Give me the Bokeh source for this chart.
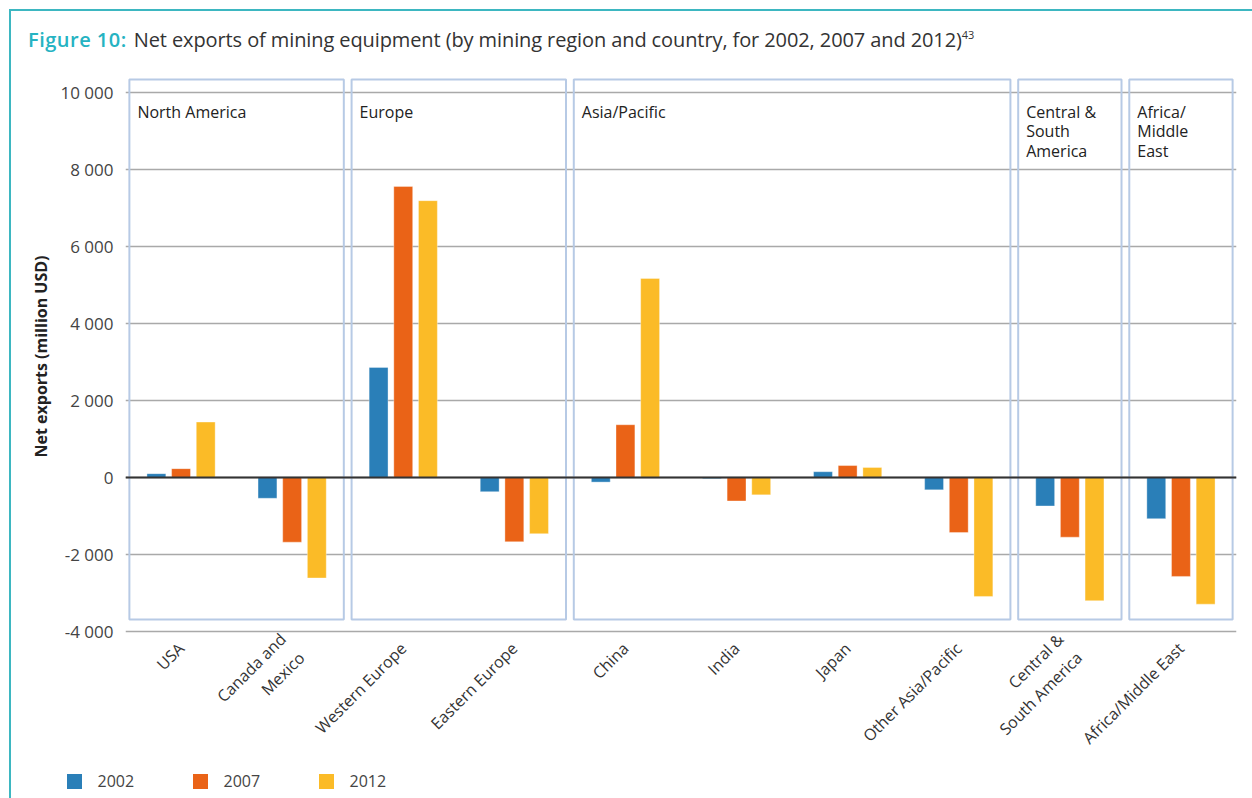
from math import pi
from bokeh.plotting import figure
from bokeh.layouts import column
from bokeh.models import (Range1d, FixedTicker, Div, Span, ColumnDataSource)
from bokeh.core.properties import value
from bokeh.embed import file_html
from bokeh.resources import INLINE

# ---------------- data ----------------
countries = ["USA", "Canada and\nMexico", "Western Europe", "Eastern Europe",
             "China", "India", "Japan", "Other Asia/Pacific",
             "Central &\nSouth America", "Africa/Middle East"]
years = ["2002", "2007", "2012"]
v2002 = [100, -540, 2860, -370, -120, -30, 150, -320, -740, -1070]
v2007 = [230, -1680, 7560, -1670, 1370, -610, 310, -1430, -1550, -2570]
v2012 = [1440, -2610, 7190, -1460, 5170, -450, 260, -3090, -3200, -3290]
regions = ["North America", "Europe", "Asia/Pacific",
           "Central &\nSouth\nAmerica", "Africa/\nMiddle\nEast"]
region_sizes = [2, 2, 4, 1, 1]
y_ticks = [-4000, -2000, 0, 2000, 4000, 6000, 8000, 10000]
y_tick_labels = ["-4 000", "-2 000", "0", "2 000", "4 000", "6 000", "8 000", "10 000"]
title_lead = "Figure 10:"
title_text = "Net exports of mining equipment (by mining region and country, for 2002, 2007 and 2012)"
title_note = "43"

colors = ["#2a7fb8", "#ea6317", "#fbbb27"]
TEAL = "#3db7c1"
FONT = "Open Sans"

p = figure(frame_width=1111, frame_height=570, x_range=Range1d(0, 10),
           y_range=Range1d(-4260, 10545), output_backend="svg",
           toolbar_location=None, min_border_left=114, min_border_right=16,
           min_border_top=0, min_border_bottom=127, margin=0)
p.outline_line_color = None

# grid
p.xgrid.grid_line_color = None
p.ygrid.grid_line_color = "#a9a9a9"
p.ygrid.grid_line_width = 1.5

# y axis
p.yaxis.ticker = FixedTicker(ticks=y_ticks)
p.yaxis.major_label_overrides = dict(zip(y_ticks, y_tick_labels))
p.yaxis.axis_line_color = None
p.yaxis.major_tick_line_color = None
p.yaxis.minor_tick_line_color = None
p.yaxis.major_tick_out = 0
p.yaxis.major_tick_in = 0
p.yaxis.major_label_standoff = 12
p.yaxis.major_label_text_font = FONT
p.yaxis.major_label_text_font_size = "17px"
p.yaxis.major_label_text_color = "#444444"
p.yaxis.axis_label = "Net exports (million USD)"
p.yaxis.axis_label_text_font = FONT
p.yaxis.axis_label_text_font_style = "bold"
p.yaxis.axis_label_text_font_size = "16px"
p.yaxis.axis_label_text_color = "#222222"
p.yaxis.axis_label_standoff = 5

# x axis
x_centers = [i + 0.5 for i in range(len(countries))]
p.xaxis.ticker = FixedTicker(ticks=x_centers)
p.xaxis.major_label_overrides = {c: n for c, n in zip(x_centers, countries)}
p.xaxis.major_label_orientation = pi / 4
p.xaxis.axis_line_color = None
p.xaxis.major_tick_line_color = None
p.xaxis.minor_tick_line_color = None
p.xaxis.major_tick_out = 0
p.xaxis.major_tick_in = 0
p.xaxis.major_label_standoff = 4
p.xaxis.major_label_text_font = FONT
p.xaxis.major_label_text_font_size = "16px"
p.xaxis.major_label_text_color = "#333333"

# region panels
box_top, box_bottom = 10338, -3688
lefts, rights, start = [], [], 0
for n in region_sizes:
    lefts.append(start + 0.035)
    rights.append(start + n - 0.035)
    start += n
p.quad(left=lefts, right=rights, top=box_top, bottom=box_bottom,
       fill_alpha=0, line_color="#b7cae5", line_width=2)
p.text(x=lefts, y=9780, text=regions, x_offset=8,
       text_font=value(FONT), text_font_size="16px", text_color="#222222",
       text_baseline="top", text_align="left", text_line_height=0.88)

# zero line
p.add_layout(Span(location=0, dimension="width", line_color="#333333", line_width=2))

# bars
offsets = [-0.222, 0.0, 0.222]
for vals, off, col in zip([v2002, v2007, v2012], offsets, colors):
    src = ColumnDataSource(dict(x=[c + off for c in x_centers], top=vals))
    p.vbar(x="x", top="top", bottom=0, width=0.17, source=src,
           fill_color=col, line_color="white", line_alpha=0.35, line_width=1)

# legend strip (HTML, below the chart)
items_html = "".join(
    f'<div style="display:flex;align-items:center;width:126px">'
    f'<div style="width:15px;height:15px;background:{c};margin-right:16px"></div>'
    f'<span>{y}</span></div>'
    for y, c in zip(years, colors)
)
legend_html = (
    f'<div style="display:flex;align-items:center;height:15px;margin-top:5.5px;'
    f'padding-left:55.5px;font-family:\'{FONT}\';font-size:16px;color:#444444;'
    f'white-space:nowrap">{items_html}</div>'
)
legend_div = Div(text=legend_html, width=1241, height=30, margin=0)

title_html = (
    f'<div style="font-family:\'{FONT}\';font-size:20px;line-height:24px;'
    f'color:#333333;padding:12px 0 0 17px;white-space:nowrap;letter-spacing:-0.1px">'
    f'<span style="color:#25b3c2;font-weight:600;letter-spacing:0.5px;margin-right:7px">{title_lead}</span>'
    f'{title_text}<sup style="font-size:11px">{title_note}</sup></div>'
)
title_div = Div(text=title_html, width=1241, height=60, margin=0)

layout = column(title_div, p, legend_div, margin=(9, 0, 0, 9), spacing=0,
                styles={"border-top": f"2px solid {TEAL}",
                        "border-left": f"2px solid {TEAL}"})

open("out.html", "w").write(file_html(layout, INLINE))
